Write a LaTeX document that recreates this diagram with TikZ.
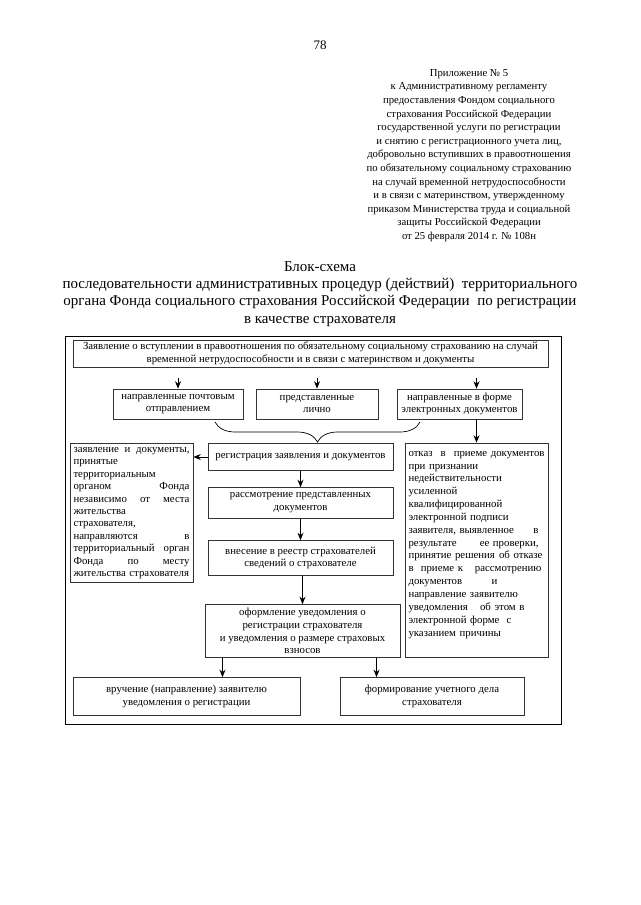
\documentclass[tikz,border=0pt]{standalone}
\usepackage{fontspec}
\setmainfont{Liberation Serif}
\usetikzlibrary{arrows.meta}
\usetikzlibrary{calc}
\usetikzlibrary{decorations.pathreplacing}
\newcommand{\spreadto}[2]{\makebox[#1][l]{#2}}

\begin{document}
\begin{tikzpicture}[x = 1pt, y = -1pt, >={Stealth[length = 7.5pt, width = 6pt]}]
	\tikzstyle{boxStyle} = [draw = black!80, line width = 0.6pt, align = center, inner sep = 2pt, font = \fontsize{10.8}{12.8}\selectfont]
	\tikzstyle{sideStyle} = [boxStyle, align = left, inner xsep = 3.5pt, inner ysep = 1pt]
	\tikzstyle{arrowStyle} = [->, line width = 0.9pt]
	\fill[white] (0,0) rectangle (640,905);
	\useasboundingbox (0,0) rectangle (640,905);
	% page head
	\node[font = \fontsize{13}{15}\selectfont] (page) at (320,45) {78};
	\node[anchor = north, align = center, inner sep = 0pt, font = \fontsize{10.7}{13.6}\selectfont] (appendix) at (469,69)
		{Приложение № 5\\
		к Административному регламенту\\
		предоставления Фондом социального\\
		страхования Российской Федерации\\
		государственной услуги по регистрации\\
		и снятию с регистрационного учета лиц,\\
		добровольно вступивших в правоотношения\\
		по обязательному социальному страхованию\\
		на случай временной нетрудоспособности\\
		и в связи с материнством, утвержденному\\
		приказом Министерства труда и социальной\\
		защиты Российской Федерации\\
		от 25 февраля 2014 г. № 108н};
	\node[anchor = north, align = center, inner sep = 0pt, font = \fontsize{15}{17.4}\selectfont] (title) at (320,261)
		{Блок-схема\\
		последовательности административных процедур (действий) \ территориального\\
		органа Фонда социального страхования Российской Федерации \ по регистрации\\
		в качестве страхователя};
	% frame
	\draw[line width = 0.7pt] (65,336) rectangle (561,724);
	% boxes
	\node[boxStyle, minimum width = 475pt, minimum height = 27pt] (apply) at (310.5,353.5)
		{Заявление о вступлении в правоотношения по обязательному социальному страхованию на случай\\
		временной нетрудоспособности и в связи с материнством и документы};
	\node[boxStyle, minimum width = 130pt, minimum height = 30pt] (post) at (178,404)
		{направленные почтовым\\ отправлением};
	\node[boxStyle, minimum width = 122pt, minimum height = 30pt] (person) at (317,404)
		{представленные\\ лично};
	\node[boxStyle, minimum width = 125pt, minimum height = 30pt] (elec) at (459.5,404)
		{направленные в форме\\ электронных документов};
	\node[sideStyle, text width = 116pt, minimum height = 139pt, font = \fontsize{10.8}{12.4}\selectfont] (other) at (131.5,513)
		{заявление \hfill и \hfill документы,\\
		принятые\\
		территориальным\\
		органом \hfill Фонда\\
		независимо \hfill от \hfill места\\
		жительства\\
		страхователя,\\
		направляются \hfill в\\
		территориальный \hfill орган\\
		Фонда \hfill по \hfill месту\\
		жительства страхователя};
	\node[boxStyle, minimum width = 185pt, minimum height = 27pt] (reg) at (300.5,457)
		{регистрация заявления и документов};
	\node[boxStyle, minimum width = 185pt, minimum height = 31pt] (review) at (300.5,503)
		{рассмотрение представленных\\ документов};
	\node[boxStyle, minimum width = 185pt, minimum height = 35pt] (entry) at (300.5,558)
		{внесение в реестр страхователей\\ сведений о страхователе};
	\node[boxStyle, minimum width = 195pt, minimum height = 53pt] (notice) at (302.5,631)
		{оформление уведомления о\\
		регистрации страхователя\\
		и уведомления о размере страховых\\
		взносов};
	\node[sideStyle, text width = 136pt, minimum height = 214pt, font = \fontsize{10.8}{12.85}\selectfont] (refuse) at (476.5,550)
		{отказ \hfill в \hfill приеме документов\\
		при признании\\
		недействительности\\
		усиленной\\
		квалифицированной\\
		электронной подписи\\
		\spreadto{130pt}{заявителя, выявленное\hfill в}\\
		\spreadto{130pt}{результате\hfill ее проверки,}\\
		\spreadto{134pt}{принятие решения\hfill об отказе}\\
		\spreadto{133pt}{в \ приеме к\hfill рассмотрению}\\
		\spreadto{89pt}{документов\hfill и}\\
		направление заявителю\\
		\spreadto{116pt}{уведомления\hfill об этом в}\\
		\spreadto{103pt}{электронной форме\hfill с}\\
		указанием причины\\ \mbox{}};
	\node[boxStyle, minimum width = 227pt, minimum height = 38pt] (hand) at (186.5,696.5)
		{вручение (направление) заявителю\\ уведомления о регистрации};
	\node[boxStyle, minimum width = 184pt, minimum height = 38pt] (file) at (432,696.5)
		{формирование учетного дела\\ страхователя};
	% brace
	\coordinate (braceL) at (215,422);
	\coordinate (braceR) at (420,422);
	\draw[line width = 0.7pt, decorate, decoration = {brace, mirror, amplitude = 20pt}] (braceL) -- (braceR);
	% arrows
	\draw[arrowStyle] ($(post.north)+(0,-11)$) -- (post.north);
	\draw[arrowStyle] ($(person.north)+(0,-11)$) -- (person.north);
	\draw[arrowStyle] ($(refuse.north |- elec.north)+(0,-11)$) -- (refuse.north |- elec.north);
	\draw[arrowStyle] (elec.south -| refuse.north) -- (refuse.north);
	\draw[arrowStyle] (reg.west) -- (reg.west -| other.east);
	\draw[arrowStyle] (reg) -- (review);
	\draw[arrowStyle] (review) -- (entry);
	\draw[arrowStyle] (entry.south -| notice.north) -- (notice.north);
	\coordinate (noticeL) at ([xshift = -80pt]notice.south);
	\coordinate (noticeR) at ([xshift = 74pt]notice.south);
	\draw[arrowStyle] (noticeL) -- (noticeL |- hand.north);
	\draw[arrowStyle] (noticeR) -- (noticeR |- file.north);
\end{tikzpicture}
\end{document}
